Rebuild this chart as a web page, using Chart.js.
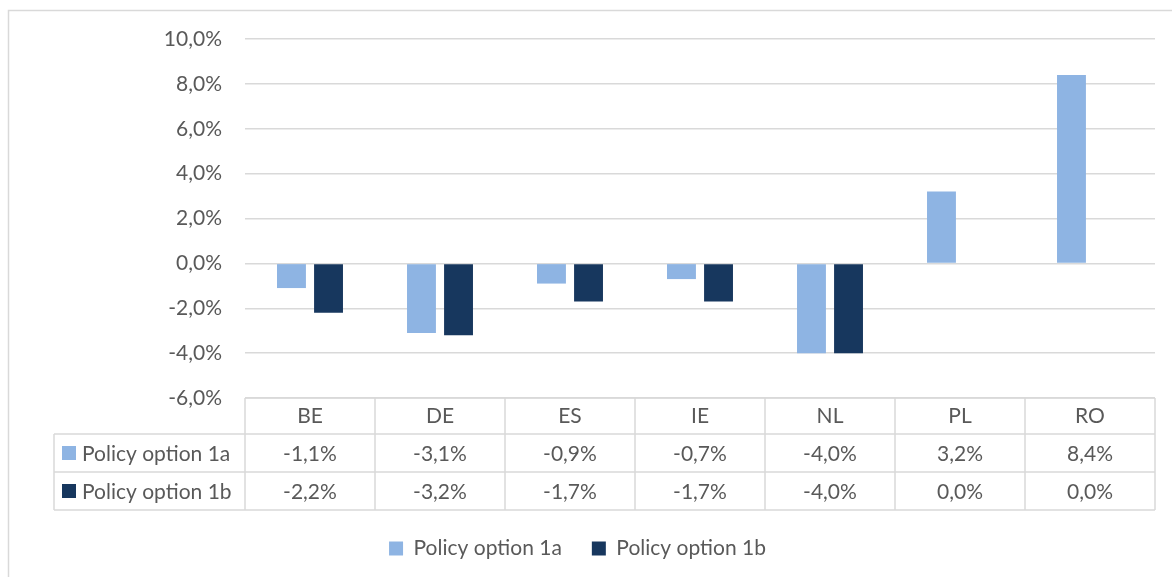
<!DOCTYPE html>
<html>
<head>
<meta charset="utf-8">
<script src="https://cdn.jsdelivr.net/npm/chart.js@4"></script>
<style>
  html, body { margin: 0; padding: 0; background: #fff; }
  #wrap { position: relative; width: 1172px; height: 577px; }
</style>
</head>
<body>
<div id="wrap"><canvas id="chart" width="1172" height="577"></canvas></div>
<script>
const countries = ["BE", "DE", "ES", "IE", "NL", "PL", "RO"];
const option1a = [-1.1, -3.1, -0.9, -0.7, -4.0, 3.2, 8.4];
const option1b = [-2.2, -3.2, -1.7, -1.7, -4.0, 0.0, 0.0];
const seriesNames = ["Policy option 1a", "Policy option 1b"];
const yTicks = [-6, -4, -2, 0, 2, 4, 6, 8, 10];

const light = "#8EB4E3";
const dark = "#17375E";
const textCol = "#595959";
const lineCol = "#D9D9D9";
const font = "Lato";
const fontSize = 21;

function pct(v) {
  return v.toFixed(1).replace(".", ",") + "%";
}

// draws the data table under the plot, using the x scale for the columns
const tablePlugin = {
  id: "dataTable",
  beforeDraw(chart) {
    const ctx = chart.ctx;
    ctx.save();
    ctx.strokeStyle = lineCol;
    ctx.lineWidth = 1.5;
    ctx.beginPath();
    ctx.moveTo(8.5, 577);
    ctx.lineTo(8.5, 10.5);
    ctx.lineTo(1172, 10.5);
    ctx.stroke();
    ctx.restore();
  },
  afterDraw(chart) {
    const ctx = chart.ctx;
    const x = chart.scales.x;
    const area = chart.chartArea;
    const top = area.bottom;
    const rowH = [36, 38, 38];
    const y1 = top + rowH[0];
    const y2 = y1 + rowH[1];
    const y3 = y2 + rowH[2];
    const leftCol = 54;
    const step = (area.right - area.left) / countries.length;

    ctx.save();
    ctx.strokeStyle = lineCol;
    ctx.lineWidth = 1.5;
    ctx.beginPath();
    ctx.moveTo(area.left, top); ctx.lineTo(area.right, top);
    [y1, y2, y3].forEach(y => { ctx.moveTo(leftCol, y); ctx.lineTo(area.right, y); });
    ctx.moveTo(leftCol, y1); ctx.lineTo(leftCol, y3);
    for (let i = 0; i <= countries.length; i++) {
      const xx = area.left + i * step;
      ctx.moveTo(xx, top); ctx.lineTo(xx, y3);
    }
    ctx.stroke();

    ctx.font = fontSize + "px " + font;
    ctx.fillStyle = textCol;
    ctx.textBaseline = "middle";
    const rows = [option1a, option1b];
    const colors = [light, dark];
    rows.forEach((vals, r) => {
      const cy = r === 0 ? (y1 + y2) / 2 : (y2 + y3) / 2;
      ctx.fillStyle = colors[r];
      ctx.fillRect(62, cy - 7, 14, 14);
      ctx.fillStyle = textCol;
      ctx.textAlign = "left";
      ctx.fillText(seriesNames[r], 82, cy + 1);
      ctx.textAlign = "center";
      vals.forEach((v, i) => {
        ctx.fillText(pct(v), x.getPixelForValue(i), cy + 1);
      });
    });
    ctx.restore();
  }
};

new Chart(document.getElementById("chart"), {
  type: "bar",
  data: {
    labels: countries,
    datasets: [
      { label: seriesNames[0], data: option1a, backgroundColor: light },
      { label: seriesNames[1], data: option1b, backgroundColor: dark },
    ],
  },
  options: {
    responsive: false,
    animation: false,
    categoryPercentage: 0.57,
    barPercentage: 0.78,
    layout: { padding: { top: 39, right: 17, bottom: 8, left: 0 } },
    plugins: {
      tooltip: { enabled: false },
      legend: {
        position: "bottom",
        labels: {
          boxWidth: 14,
          boxHeight: 14,
          padding: 30,
          color: textCol,
          font: { family: font, size: fontSize },
        },
      },
    },
    scales: {
      x: {
        grid: { display: false, drawTicks: false },
        border: { display: false },
        ticks: { color: textCol, padding: 6, font: { family: font, size: fontSize } },
        afterFit(scale) { scale.height = 110; },
      },
      y: {
        min: -6,
        max: 10,
        afterBuildTicks(scale) { scale.ticks = yTicks.map(v => ({ value: v })); },
        grid: { color: lineCol, lineWidth: 1.5, drawTicks: false },
        border: { display: false },
        ticks: {
          color: textCol,
          padding: 23,
          font: { family: font, size: fontSize },
          callback: v => pct(v),
        },
        afterFit(scale) { scale.width = 245; },
      },
    },
  },
  plugins: [tablePlugin],
});
</script>
</body>
</html>
